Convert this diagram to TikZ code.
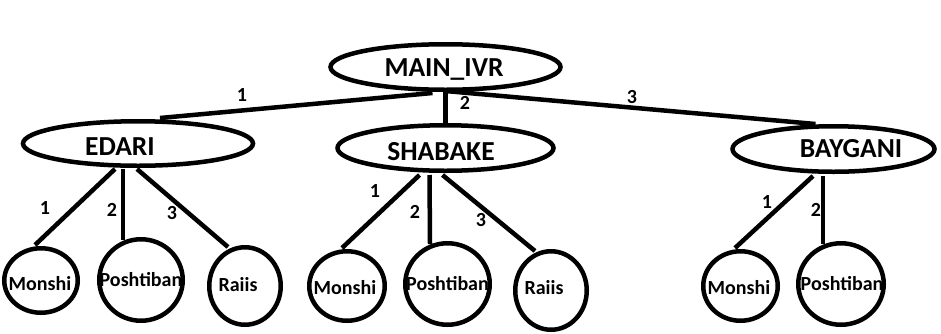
\documentclass[tikz,border=0pt]{standalone}
\usepackage{fontspec}
\setmainfont{Carlito}
\usetikzlibrary{shapes.geometric,calc}
\begin{document}
\begin{tikzpicture}[x=1pt,y=-1pt,
  oval/.style={draw,ellipse,line width=4.5pt,inner sep=0pt},
  bigtxt/.style={font=\fontsize{27.5}{27.5}\selectfont\bfseries,text height=17.7pt,text depth=0pt,inner sep=0pt},
  smalltxt/.style={font=\fontsize{20}{20}\selectfont\bfseries,text height=12.9pt,text depth=0pt,inner sep=0pt},
  num/.style={font=\fontsize{20}{20}\selectfont\bfseries,text height=12.6pt,text depth=0pt,inner sep=0pt},
  edge/.style={line width=4.5pt}]
\useasboundingbox (0,0) rectangle (941,333);

% top level ellipses
\node[oval,minimum width=230pt,minimum height=45.5pt,label={[bigtxt,shift={(-1.5pt,-1pt)}]center:MAIN\_IVR}] (main) at (445.5,67) {};
\node[oval,minimum width=230pt,minimum height=44.5pt,label={[bigtxt,shift={(-18pt,-3.5pt)}]center:EDARI}] (edari) at (138,143.5) {};
\node[oval,minimum width=216pt,minimum height=45.5pt,label={[bigtxt,shift={(-4.5pt,-4pt)}]center:SHABAKE}] (shabake) at (445.5,148) {};
\node[oval,minimum width=202pt,minimum height=45.5pt,label={[bigtxt,shift={(17.5pt,0pt)}]center:BAYGANI}] (baygani) at (833.5,149) {};

% leaves
\node[oval,minimum width=73.5pt,minimum height=64.5pt,label={[smalltxt,shift={(-1pt,-3.5pt)}]center:Monshi}] (m1) at (41,280.5) {};
\node[oval,minimum width=83.5pt,minimum height=81.5pt,label={[smalltxt,shift={(0pt,-0.5pt)}]center:Poshtiban}] (p1) at (141,280) {};
\node[oval,minimum width=71.5pt,minimum height=77.5pt,label={[smalltxt,shift={(-7pt,1pt)}]center:Raiis}] (r1) at (245,286) {};

\node[oval,minimum width=75.5pt,minimum height=69.5pt,label={[smalltxt,shift={(-2pt,-2.5pt)}]center:Monshi}] (m2) at (347,286) {};
\node[oval,minimum width=84.5pt,minimum height=81.5pt,label={[smalltxt,shift={(0pt,0pt)}]center:Poshtiban}] (p2) at (447.5,284) {};
\node[oval,minimum width=71.5pt,minimum height=78.5pt,label={[smalltxt,shift={(-7pt,2pt)}]center:Raiis}] (r2) at (551,290.5) {};

\node[oval,minimum width=74.5pt,minimum height=69.5pt,label={[smalltxt,shift={(-1.5pt,-2.5pt)}]center:Monshi}] (m3) at (740.5,286) {};
\node[oval,minimum width=85.5pt,minimum height=81.5pt,label={[smalltxt,shift={(1pt,0pt)}]center:Poshtiban}] (p3) at (841,284) {};

% connectors from root
\draw[edge] ($(main.south)+(-13,1)$) -- ($(edari.north)+(22,-1)$);
\draw[edge] (main.south) -- (shabake.north);
\draw[edge] ($(main.south)+(0,-1)$) -- ($(baygani.north)+(-18,0)$);

% EDARI children
\draw[edge] ($(edari.south)+(-23,1)$) -- ($(m1.north)+(-6,-1)$);
\draw[edge] ($(edari.south)+(-15,1)$) -- ($(p1.north)+(-18,3)$);
\draw[edge] ($(edari.south)+(-1,1)$) -- ($(r1.north)+(-17,2)$);

% SHABAKE children
\draw[edge] ($(shabake.south)+(-26,2)$) -- ($(m2.north)+(-5,-1)$);
\draw[edge] ($(shabake.south)+(-16,2)$) -- ($(p2.north)+(-17.5,3)$);
\draw[edge] ($(shabake.south)+(-3,2)$) -- ($(r2.north)+(-16,2)$);

% BAYGANI children
\draw[edge] ($(baygani.south)+(-20.5,2)$) -- ($(m3.north)+(-5.5,-1)$);
\draw[edge] ($(baygani.south)+(-10.5,2)$) -- ($(p3.north)+(-18,3)$);

% edge numbers
\node[num] (n1) at (242,95) {1};
\node[num] (n2) at (465,103.5) {2};
\node[num] (n3) at (632,97) {3};
\node[num] (e1) at (45,208) {1};
\node[num] (e2) at (112,210) {2};
\node[num] (e3) at (172,213) {3};
\node[num] (s1) at (375,191) {1};
\node[num] (s2) at (415,212) {2};
\node[num] (s3) at (481,220) {3};
\node[num] (b1) at (767,202) {1};
\node[num] (b2) at (816,210) {2};
\end{tikzpicture}
\end{document}
